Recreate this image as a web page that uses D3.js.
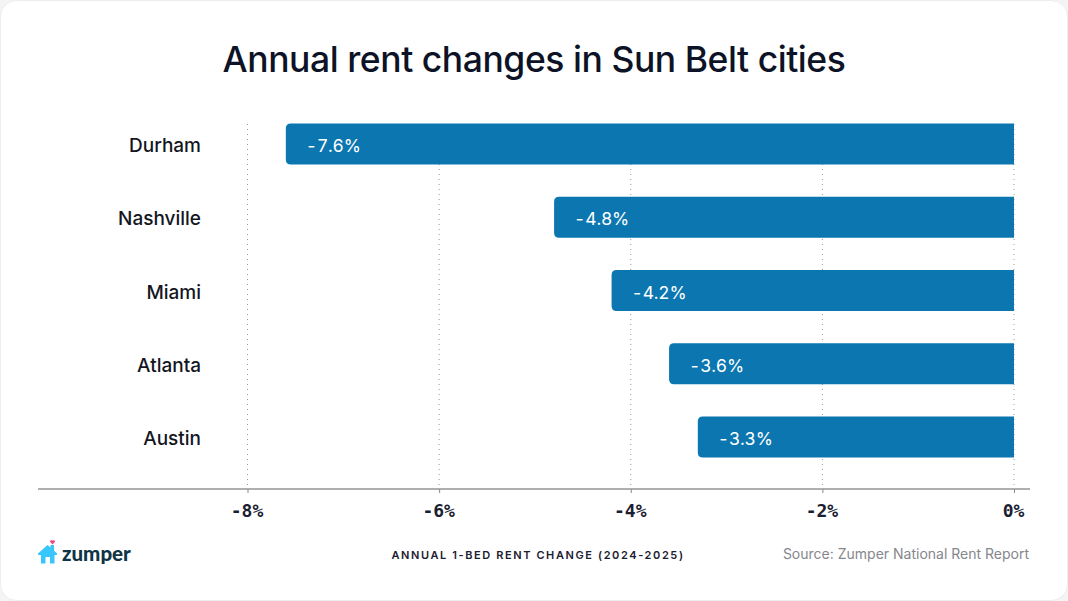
<!DOCTYPE html>
<html>
<head>
<meta charset="utf-8">
<title>Annual rent changes in Sun Belt cities</title>
<style>
html, body { margin: 0; padding: 0; background: #f4f4f4; }
svg { display: block; }
text { font-family: Inter, "Open Sans", sans-serif; }
.title { font-size: 35.5px; font-weight: 500; fill: #0d1326; letter-spacing: -0.45px; }
.city { font-size: 19px; font-weight: 450; fill: #14161f; }
.value { font-size: 17.5px; font-weight: 400; fill: #fff; font-variant-numeric: tabular-nums; letter-spacing: -0.2px; }
.tick-label { font-family: "DejaVu Sans Mono", monospace; font-size: 18px; font-weight: 700; fill: #1a2030; }
.axis-title { font-size: 11px; font-weight: 600; fill: #1a2030; letter-spacing: 1.6px; }
.source { font-size: 14px; fill: #85878c; }
.brand { font-family: Lato, sans-serif; font-size: 20.5px; font-weight: 900; fill: #0f3446; }
</style>
</head>
<body>
<svg id="chart" width="1068" height="601"></svg>
<script src="https://cdnjs.cloudflare.com/ajax/libs/d3/7.8.5/d3.min.js"></script>
<script>
var cities = ['Durham', 'Nashville', 'Miami', 'Atlanta', 'Austin'];
var changes = [-7.6, -4.8, -4.2, -3.6, -3.3];
var tickValues = [-8, -6, -4, -2, 0];
var tickLabels = ['-8%', '-6%', '-4%', '-2%', '0%'];
var valueLabels = ['-7.6%', '-4.8%', '-4.2%', '-3.6%', '-3.3%'];

var svg = d3.select('#chart');

svg.append('rect')
  .attr('x', 0.5).attr('y', 0.5)
  .attr('width', 1067).attr('height', 600)
  .attr('rx', 16)
  .attr('fill', '#fff')
  .attr('stroke', '#ededed');

svg.append('text')
  .attr('class', 'title')
  .attr('x', 534).attr('y', 72)
  .attr('text-anchor', 'middle')
  .text('Annual rent changes in Sun Belt cities');

var x = d3.scaleLinear().domain([-8, 0]).range([247.5, 1014]);
var y = d3.scaleBand().domain(cities).range([107.4, 473.6]).paddingInner(0.44).paddingOuter(0.22);
var axisY = 489;

// dotted grid
svg.append('g').selectAll('line')
  .data(tickValues)
  .enter()
  .append('line')
  .attr('x1', function(d) { return x(d); })
  .attr('x2', function(d) { return x(d); })
  .attr('y1', 124)
  .attr('y2', axisY)
  .attr('stroke', '#9a9a9a')
  .attr('stroke-dasharray', '1 4');

// bars, rounded on the left end only
function barPath(d, i) {
  var r = 5;
  var x0 = x(d), x1 = x(0), y0 = y(cities[i]), h = y.bandwidth();
  return 'M' + x1 + ',' + y0 + 'H' + (x0 + r) +
    'Q' + x0 + ',' + y0 + ' ' + x0 + ',' + (y0 + r) +
    'V' + (y0 + h - r) +
    'Q' + x0 + ',' + (y0 + h) + ' ' + (x0 + r) + ',' + (y0 + h) +
    'H' + x1 + 'Z';
}

svg.append('g').selectAll('path')
  .data(changes)
  .enter()
  .append('path')
  .attr('d', barPath)
  .attr('fill', '#0b76b0');

svg.append('g').selectAll('text')
  .data(changes)
  .enter()
  .append('text')
  .attr('class', 'value')
  .attr('x', function(d) { return x(d) + 20; })
  .attr('y', function(d, i) { return y(cities[i]) + y.bandwidth() / 2 + 8; })
  .text(function(d, i) { return valueLabels[i]; });

svg.append('g').selectAll('text')
  .data(cities)
  .enter()
  .append('text')
  .attr('class', 'city')
  .attr('x', 201)
  .attr('y', function(d) { return y(d) + y.bandwidth() / 2 + 8; })
  .attr('text-anchor', 'end')
  .text(function(d) { return d; });

// x axis
var axis = d3.axisBottom(x)
  .tickValues(tickValues)
  .tickFormat(function(d, i) { return tickLabels[i]; })
  .tickSize(4)
  .tickPadding(11);

var axisG = svg.append('g')
  .attr('transform', 'translate(0,' + axisY + ')')
  .call(axis);
axisG.select('.domain').remove();
axisG.selectAll('.tick line').attr('stroke', '#8a8a8a');
axisG.selectAll('.tick text').attr('class', 'tick-label').attr('dx', -1);

svg.append('line')
  .attr('x1', 38).attr('x2', 1030)
  .attr('y1', axisY).attr('y2', axisY)
  .attr('stroke', '#949494')
  .attr('stroke-width', 1.5);

svg.append('text')
  .attr('class', 'axis-title')
  .attr('x', 538).attr('y', 559)
  .attr('text-anchor', 'middle')
  .text('ANNUAL 1-BED RENT CHANGE (2024-2025)');

svg.append('text')
  .attr('class', 'source')
  .attr('x', 1029).attr('y', 559)
  .attr('text-anchor', 'end')
  .text('Source: Zumper National Rent Report');

// logo
var logo = svg.append('g');
logo.append('path')
  .attr('d', 'M38,553.5 L47.5,545 L50.5,547.5 L50.5,545 L54,545 L54,550.5 L57,553.5 L57,555 L54.5,555 L54.5,563.5 L50,563.5 L50,557 L45.5,557 L45.5,563.5 L41,563.5 L41,555 L38,555 Z')
  .attr('fill', '#38c6fb');
logo.append('path')
  .attr('d', 'M52.5,544.5 L50,541.8 A1.5,1.5 0 0 1 52.5,540.6 A1.5,1.5 0 0 1 55,541.8 Z')
  .attr('fill', '#f0487a');
logo.append('text')
  .attr('class', 'brand')
  .attr('x', 62).attr('y', 561)
  .text('zumper');
</script>
</body>
</html>
